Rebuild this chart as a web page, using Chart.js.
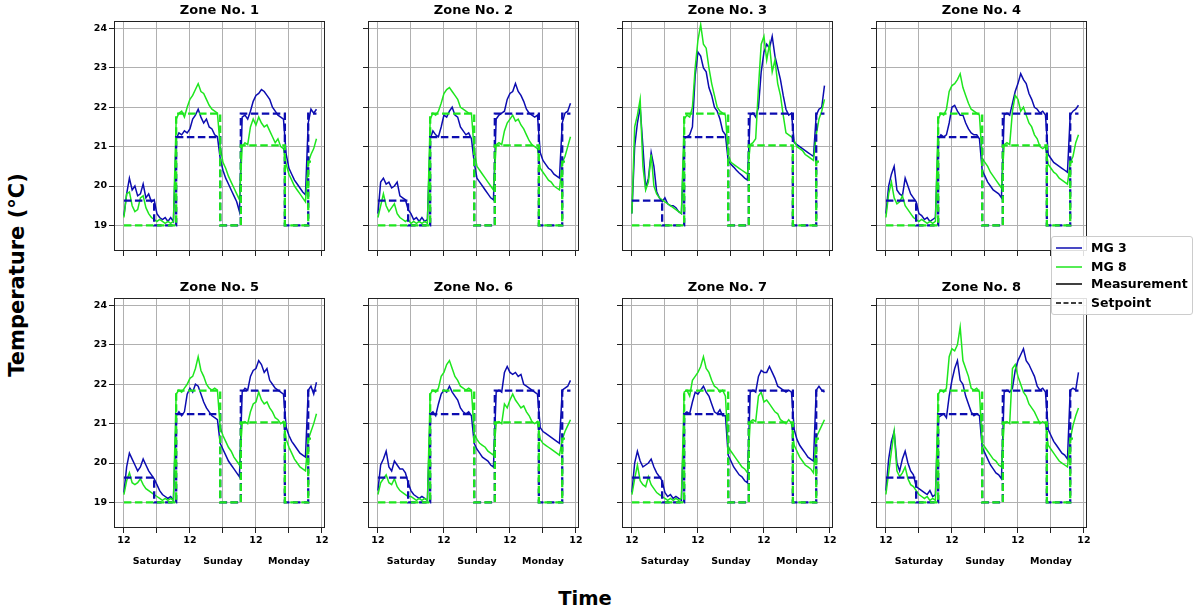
<!DOCTYPE html>
<html><head><meta charset="utf-8">
<script src="https://cdn.jsdelivr.net/npm/chart.js@4.4.0/dist/chart.umd.min.js"></script>
<style>
html,body{margin:0;padding:0;background:#fff;width:1198px;height:613px;overflow:hidden;font-family:"DejaVu Sans",sans-serif;}
canvas{position:absolute;}
#ylab{position:absolute;left:17px;top:275px;transform:translate(-50%,-50%) rotate(-90deg);font-weight:bold;font-size:21px;white-space:nowrap;color:#000;}
#xlab{position:absolute;left:585px;top:598px;transform:translate(-50%,-50%);font-weight:bold;font-size:19.5px;white-space:nowrap;color:#000;}
#legend{position:absolute;left:1051px;top:236px;width:140px;height:77px;border:1px solid #cccccc;border-radius:3px;background:rgba(255,255,255,0.85);z-index:10;}
.row{position:absolute;left:0;height:18px;width:140px;}
.row svg{position:absolute;left:3px;top:4px;}
.row span{position:absolute;left:39px;top:0;line-height:18px;font-weight:bold;font-size:12.5px;color:#000;white-space:nowrap;}
</style>
</head><body>
<div id="ylab">Temperature (°C)</div>
<div id="xlab">Time</div>
<div id="legend"></div>
<script>
// ---------- data ----------
const hours = [0,1,2,3,4,5,6,7,8,9,10,11,12,13,14,15,16,17,18,19,20,21,22,23,24,25,26,27,28,29,30,31,32,33,34,35,36,37,38,39,40,41,42,43,44,45,46,47,48,49,50,51,52,53,54,55,56,57,58,59,60,61,62,63,64,65,66,67,68,69,70];
const spHoursMG3 = [0, 11, 19, 35, 42.5, 58.5, 67, 70];
const spMG3 = [19.63, 19.0, 21.24, 19.0, 21.84, 19.0, 21.84, 21.84];
const spHoursMG8 = [0, 11, 19, 35, 42.5, 58.5, 67, 68.3];
const spMG8 = [19.0, 19.0, 21.84, 19.0, 21.03, 19.0, 20.62, 20.62];
const xTickHours = [0, 12, 24, 36, 48, 60, 72];
const xTickLabels = ['12', 'Saturday', '12', 'Sunday', '12', 'Monday', '12'];
const yTicks = [19, 20, 21, 22, 23, 24];
const zoneTitles = ['Zone No. 1','Zone No. 2','Zone No. 3','Zone No. 4','Zone No. 5','Zone No. 6','Zone No. 7','Zone No. 8'];
const seriesNames = ['MG 3', 'MG 8'];

const zone1MG3 = [19.25,19.8,20.2,19.9,20.0,19.75,19.8,20.05,19.7,19.8,19.6,19.65,19.3,19.2,19.15,19.2,19.1,19.2,19.1,21.2,21.35,21.3,21.4,21.35,21.45,21.7,21.8,21.95,21.75,21.6,21.7,21.5,21.45,21.3,21.25,20.7,20.4,20.2,20.05,19.9,19.75,19.6,19.35,21.75,21.8,21.7,21.9,22.15,22.3,22.35,22.45,22.4,22.3,22.2,22.0,21.9,21.8,21.75,21.7,20.8,20.45,20.3,20.15,20.05,19.95,19.85,19.78,21.6,21.95,21.85,21.95];
const zone1MG8 = [19.2,19.8,19.85,19.5,19.35,19.4,19.7,19.75,19.45,19.3,19.2,19.15,19.1,19.15,19.1,19.05,19.1,19.05,19.1,21.7,21.85,21.9,21.75,22.0,22.2,22.3,22.45,22.6,22.4,22.35,22.2,22.05,21.95,21.9,21.85,21.0,20.6,20.45,20.25,20.1,19.95,19.8,19.65,21.0,21.1,21.05,21.5,21.7,21.55,21.75,21.6,21.5,21.55,21.4,21.25,21.1,21.2,21.0,20.95,20.55,20.3,20.15,20.0,19.9,19.8,19.7,19.6,20.6,20.8,20.95,21.2];
const zone2MG3 = [19.3,20.1,20.2,20.05,20.1,19.95,20.0,20.1,19.75,19.7,19.65,19.4,19.3,19.15,19.2,19.1,19.2,19.1,19.15,21.2,21.4,21.3,21.25,21.5,21.8,21.75,21.9,22.0,21.8,21.75,21.5,21.4,21.3,21.35,21.2,20.6,20.2,20.1,20.0,19.9,19.8,19.7,19.65,21.7,21.8,21.85,21.9,22.2,22.35,22.4,22.6,22.4,22.3,22.15,21.95,21.85,21.8,21.75,21.8,20.85,20.65,20.55,20.45,20.4,20.3,20.25,20.2,21.6,21.85,21.9,22.1];
const zone2MG8 = [19.2,19.5,19.8,19.5,19.35,19.45,19.55,19.3,19.2,19.15,19.1,19.15,19.05,19.1,19.05,19.1,19.05,19.1,19.05,21.7,21.85,21.8,21.9,22.1,22.35,22.45,22.5,22.4,22.3,22.2,22.0,21.95,21.9,21.85,21.85,20.9,20.5,20.4,20.3,20.2,20.1,20.0,19.9,21.05,21.1,21.05,21.4,21.6,21.7,21.8,21.65,21.7,21.55,21.45,21.3,21.15,21.05,21.0,20.95,20.45,20.35,20.25,20.15,20.1,20.0,19.95,19.9,20.6,20.75,21.0,21.25];
const zone3MG3 = [19.3,21.0,21.6,22.0,21.0,19.95,20.2,20.85,20.5,19.85,19.7,19.6,19.7,19.55,19.5,19.5,19.45,19.35,19.3,21.2,21.25,21.3,21.5,22.8,23.4,23.3,23.0,22.9,22.5,22.3,22.0,21.9,21.7,21.4,21.3,20.64,20.55,20.48,20.4,20.33,20.27,20.2,20.15,21.8,21.85,21.75,22.0,22.9,23.4,23.6,23.5,23.8,23.3,23.0,22.7,22.3,21.95,21.8,21.85,21.1,21.05,21.0,20.95,20.9,20.85,20.8,20.75,21.8,21.95,22.0,22.55];
const zone3MG8 = [19.3,21.5,21.8,22.2,20.5,19.9,20.1,20.8,20.0,19.8,19.7,19.65,19.6,19.55,19.5,19.45,19.4,19.35,19.3,21.7,21.8,21.75,22.0,23.0,23.7,24.1,23.6,23.5,23.0,22.6,22.3,22.0,21.9,21.85,21.8,20.8,20.6,20.55,20.5,20.45,20.4,20.35,20.3,21.05,21.1,21.2,22.5,23.6,23.8,23.2,23.6,22.9,23.2,22.6,22.3,21.8,21.35,21.3,21.25,21.15,21.0,20.95,20.9,20.8,20.75,20.7,20.65,21.3,21.7,21.9,22.2];
const zone4MG3 = [19.3,20.0,20.3,20.5,19.9,19.8,19.75,20.2,20.0,19.8,19.7,19.6,19.3,19.25,19.15,19.2,19.1,19.15,19.2,21.2,21.3,21.25,21.3,21.6,22.0,22.05,21.9,21.8,21.8,21.6,21.45,21.35,21.3,21.3,21.2,20.4,20.25,20.1,20.0,19.9,19.85,19.8,19.7,21.8,21.85,21.8,22.1,22.4,22.6,22.85,22.7,22.6,22.35,22.2,22.0,21.95,21.85,21.9,21.8,20.8,20.7,20.6,20.55,20.5,20.45,20.4,20.35,21.8,21.9,21.95,22.05];
const zone4MG8 = [19.2,19.8,20.1,19.7,19.55,19.6,19.75,19.5,19.4,19.3,19.2,19.15,19.1,19.15,19.1,19.05,19.1,19.05,19.1,21.7,21.85,21.8,21.95,22.4,22.55,22.6,22.7,22.85,22.5,22.3,22.1,21.95,21.9,21.85,21.8,20.7,20.6,20.5,20.35,20.25,20.15,20.05,19.95,21.05,21.1,21.05,21.9,22.3,22.2,21.9,22.0,21.8,21.6,21.5,21.3,21.2,21.0,20.95,21.0,20.55,20.45,20.35,20.3,20.2,20.15,20.1,20.05,20.6,20.75,21.1,21.3];
const zone5MG3 = [19.25,19.9,20.25,20.1,19.95,19.8,19.9,20.1,19.95,19.8,19.7,19.6,19.45,19.3,19.2,19.15,19.1,19.15,19.05,21.2,21.3,21.2,21.3,21.75,21.9,21.8,22.0,21.95,21.75,21.55,21.4,21.3,21.2,21.15,21.1,20.5,20.35,20.2,20.05,19.95,19.85,19.75,19.65,21.8,21.9,21.85,22.2,22.35,22.4,22.6,22.5,22.3,22.4,22.1,22.0,21.9,21.85,21.8,21.75,20.9,20.7,20.55,20.45,20.35,20.25,20.2,20.15,21.85,21.95,21.75,22.05];
const zone5MG8 = [19.2,19.55,19.75,19.5,19.45,19.5,19.6,19.45,19.35,19.3,19.25,19.2,19.15,19.1,19.05,19.1,19.05,19.1,19.05,21.75,21.85,21.8,21.9,22.0,22.15,22.2,22.4,22.7,22.35,22.2,22.0,21.9,21.85,21.9,21.85,20.9,20.7,20.55,20.4,20.3,20.15,20.05,19.95,21.0,21.05,21.0,21.3,21.5,21.55,21.8,21.6,21.5,21.55,21.4,21.3,21.15,21.1,21.0,21.05,20.6,20.4,20.25,20.1,20.0,19.9,19.85,19.8,20.6,20.8,21.0,21.25];
const zone6MG3 = [19.3,19.95,20.1,20.3,19.9,19.8,20.05,19.95,19.85,19.85,19.75,19.5,19.3,19.2,19.15,19.1,19.15,19.1,19.05,21.25,21.3,21.2,21.5,21.75,21.85,21.8,21.95,21.8,21.7,21.6,21.4,21.3,21.25,21.3,21.2,20.5,20.35,20.25,20.15,20.1,20.05,19.95,19.9,21.8,21.85,21.8,22.3,22.45,22.3,22.25,22.3,22.2,22.25,22.0,21.95,21.9,21.85,21.8,21.75,20.9,20.8,20.75,20.7,20.65,20.6,20.55,20.5,21.85,21.9,21.95,22.1];
const zone6MG8 = [19.2,19.5,19.6,19.7,19.5,19.45,19.6,19.4,19.3,19.25,19.2,19.15,19.15,19.1,19.05,19.1,19.05,19.1,19.05,21.75,21.85,21.8,21.9,22.2,22.3,22.5,22.6,22.4,22.2,22.1,21.95,21.9,21.85,21.9,21.85,20.75,20.6,20.5,20.45,20.4,20.3,20.25,20.2,21.0,21.05,21.0,21.5,21.4,21.6,21.75,21.6,21.5,21.4,21.45,21.3,21.2,21.05,21.0,21.05,20.6,20.5,20.45,20.4,20.35,20.3,20.25,20.2,20.6,20.8,20.95,21.1];
const zone7MG3 = [19.25,20.0,20.3,20.05,19.9,19.95,20.0,20.1,19.9,19.75,19.65,19.55,19.25,19.15,19.2,19.1,19.15,19.1,19.05,21.25,21.3,21.25,21.55,21.8,21.75,21.85,21.95,21.8,21.7,21.5,21.3,21.25,21.35,21.2,21.2,20.2,20.05,19.9,19.8,19.7,19.65,19.55,19.5,21.8,21.85,21.8,22.2,22.35,22.3,22.3,22.45,22.3,22.15,21.95,21.9,21.85,21.8,21.85,21.8,20.85,20.6,20.45,20.35,20.25,20.15,20.1,20.05,21.85,21.95,21.85,21.8];
const zone7MG8 = [19.2,19.6,19.95,19.55,19.45,19.4,19.65,19.45,19.35,19.25,19.2,19.15,19.1,19.05,19.1,19.05,19.1,19.05,19.1,21.8,21.85,21.7,22.1,22.2,22.3,22.45,22.7,22.4,22.3,22.1,21.95,21.9,21.8,21.85,21.7,20.4,20.3,20.2,20.1,20.0,19.9,19.85,19.75,21.05,21.1,21.05,21.7,21.8,21.55,21.6,21.5,21.4,21.3,21.25,21.1,21.05,21.0,21.1,21.0,20.45,20.3,20.15,20.05,19.95,19.9,19.85,19.75,20.65,20.8,20.95,21.1];
const zone8MG3 = [19.3,20.1,20.55,20.8,20.0,19.8,20.1,20.3,20.0,19.8,19.7,19.4,19.35,19.3,19.25,19.2,19.3,19.15,19.2,21.15,21.2,21.25,21.15,21.7,22.1,22.4,22.6,22.1,22.0,21.7,21.5,21.3,21.2,21.25,21.2,20.4,20.25,20.1,19.95,19.85,19.75,19.7,19.6,21.8,21.85,21.8,21.9,22.35,22.6,22.75,22.9,22.6,22.5,22.35,22.2,21.95,21.85,21.9,21.8,20.85,20.7,20.55,20.45,20.35,20.25,20.2,20.1,21.85,21.9,21.85,22.3];
const zone8MG8 = [19.2,19.75,20.3,20.8,19.8,19.65,19.75,19.9,19.6,19.45,19.4,19.3,19.2,19.15,19.1,19.15,19.05,19.1,19.05,21.75,21.85,21.8,21.9,22.7,22.9,22.85,23.0,23.45,22.6,22.4,22.2,21.9,21.85,21.9,21.8,20.5,20.4,20.3,20.2,20.1,20.05,19.95,19.9,21.0,21.05,21.0,22.4,22.5,22.2,22.0,21.8,21.7,21.5,21.4,21.3,21.15,21.0,21.05,21.0,20.45,20.35,20.25,20.15,20.05,20.0,19.95,19.9,20.6,20.95,21.2,21.4];

const zoneMG3 = [zone1MG3, zone2MG3, zone3MG3, zone4MG3, zone5MG3, zone6MG3, zone7MG3, zone8MG3];
const zoneMG8 = [zone1MG8, zone2MG8, zone3MG8, zone4MG8, zone5MG8, zone6MG8, zone7MG8, zone8MG8];

// ---------- style / layout ----------
const BLUE = '#0c0cb0';
const GREEN = '#1ee61e';
const FONT = '"DejaVu Sans", sans-serif';
const colLeft = [114, 368, 622, 876];
const rowTop = [21, 298];
const PW = 211, PH = 230, LM = 50, RM = 10, TM = 21;
const BM = [8, 50];

Chart.defaults.font.family = FONT;
Chart.defaults.color = '#000';

function pts(xs, ys) { return ys.map((y, i) => ({ x: xs[i], y: y })); }

const framePlugin = {
  id: 'frame',
  afterDraw(chart, args, opts) {
    const a = chart.chartArea, ctx = chart.ctx;
    ctx.save();
    ctx.strokeStyle = '#222';
    ctx.lineWidth = 1;
    ctx.strokeRect(Math.round(a.left) + 0.5, Math.round(a.top) + 0.5, Math.round(a.right - a.left) - 1, Math.round(a.bottom - a.top) - 1);
    ctx.fillStyle = '#000';
    ctx.font = 'bold 13px ' + FONT;
    ctx.textAlign = 'center';
    ctx.textBaseline = 'middle';
    ctx.fillText(opts.text, (a.left + a.right) / 2, a.top - 10);
    ctx.restore();
  }
};

for (let z = 0; z < 8; z++) {
  const r = Math.floor(z / 4), c = z % 4;
  const cv = document.createElement('canvas');
  const w = LM + PW + RM, h = TM + PH + BM[r];
  cv.width = w; cv.height = h;
  cv.style.width = w + 'px'; cv.style.height = h + 'px';
  cv.style.left = (colLeft[c] - LM) + 'px';
  cv.style.top = (rowTop[r] - TM) + 'px';
  document.body.appendChild(cv);
  const showX = r === 1, showY = c === 0;
  new Chart(cv.getContext('2d'), {
    type: 'line',
    data: {
      datasets: [
        { label: seriesNames[1] + ' setpoint', data: pts(spHoursMG8, spMG8), borderColor: GREEN, borderWidth: 2.3, borderDash: [7.5, 3.5], stepped: true, pointRadius: 0, fill: false },
        { label: seriesNames[0] + ' setpoint', data: pts(spHoursMG3, spMG3), borderColor: BLUE, borderWidth: 2.3, borderDash: [7.5, 3.5], stepped: true, pointRadius: 0, fill: false },
        { label: seriesNames[1], data: pts(hours, zoneMG8[z]), borderColor: GREEN, borderWidth: 1.5, pointRadius: 0, fill: false, tension: 0 },
        { label: seriesNames[0], data: pts(hours, zoneMG3[z]), borderColor: BLUE, borderWidth: 1.5, pointRadius: 0, fill: false, tension: 0 }
      ]
    },
    options: {
      responsive: false, animation: false, devicePixelRatio: 1,
      layout: { padding: { left: 0, right: RM, top: TM, bottom: 0 } },
      plugins: { legend: { display: false }, tooltip: { enabled: false }, title: { display: false }, frame: { text: zoneTitles[z] } },
      scales: {
        x: {
          type: 'linear', min: -3.6, max: 73.1,
          afterBuildTicks: (s) => { s.ticks = xTickHours.map(v => ({ value: v })); },
          afterFit: (s) => { s.height = BM[r]; },
          grid: { color: '#b0b0b0', lineWidth: 1, tickColor: '#222', tickLength: 5, drawTicks: true },
          border: { display: false },
          ticks: {
            autoSkip: false, maxRotation: 0, minRotation: 0, padding: 2.75, color: '#000',
            font: { size: 9.5, weight: 'bold', lineHeight: '10.5px' },
            callback: (v) => {
              if (!showX) return '';
              const i = xTickHours.indexOf(v);
              if (i < 0) return '';
              const lab = xTickLabels[i];
              return lab === '12' ? ['12', '', ''] : ['', '', lab];
            }
          }
        },
        y: {
          type: 'linear', min: 18.35, max: 24.19,
          afterBuildTicks: (s) => { s.ticks = yTicks.map(v => ({ value: v })); },
          afterFit: (s) => { s.width = LM; },
          grid: { color: '#b0b0b0', lineWidth: 1, tickColor: '#222', tickLength: 5, drawTicks: true },
          border: { display: false },
          ticks: {
            padding: 2, color: '#000', font: { size: 9.5, weight: 'bold' },
            callback: (v) => showY ? String(v) : ''
          }
        }
      }
    },
    plugins: [framePlugin]
  });
}

// ---------- legend ----------
const legendItems = [
  { name: seriesNames[0], color: BLUE, dash: '' },
  { name: seriesNames[1], color: GREEN, dash: '' },
  { name: 'Measurement', color: '#000', dash: '' },
  { name: 'Setpoint', color: '#000', dash: '5,2.5' }
];
const rowY = [2.3, 20.7, 38.3, 56.7];
const leg = document.getElementById('legend');
legendItems.forEach((it, i) => {
  const d = document.createElement('div');
  d.className = 'row';
  d.style.top = rowY[i] + 'px';
  d.innerHTML = '<svg width="28" height="10"><line x1="1" y1="5" x2="27" y2="5" stroke="' + it.color + '" stroke-width="1.5"' + (it.dash ? ' stroke-dasharray="' + it.dash + '"' : '') + '/></svg><span>' + it.name + '</span>';
  leg.appendChild(d);
});
</script>
</body></html>
